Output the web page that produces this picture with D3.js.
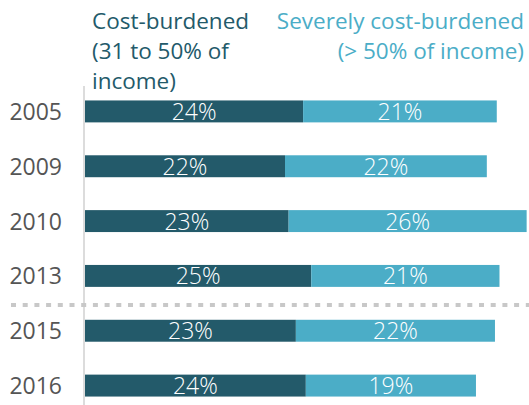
<!DOCTYPE html>
<html>
<head>
<meta charset="utf-8">
<script src="https://cdn.jsdelivr.net/npm/d3@7"></script>
<style>
  body { margin: 0; background: #fff; }
  text { font-family: "Open Sans", "Noto Sans", sans-serif; }
</style>
</head>
<body>
<script>
let width = 529
let height = 405

const years = ['2005', '2009', '2010', '2013', '2015', '2016']
const costBurdened = [24.1, 22.1, 22.5, 25.0, 23.3, 24.4]
const severelyBurdened = [21.4, 22.3, 26.3, 20.8, 22.0, 18.8]
const costLabels = ['24%', '22%', '23%', '25%', '23%', '24%']
const severeLabels = ['21%', '22%', '26%', '21%', '22%', '19%']

const darkColor = '#235a6a'
const lightColor = '#4badc7'

let svg = d3.select('body')
  .append('svg')
  .attr('width', width)
  .attr('height', height)

let x = d3.scaleLinear()
  .domain([0, 50])
  .range([85, 537.5])

let y = d3.scaleBand()
  .domain(years)
  .range([84, 413])
  .paddingInner(0.6)
  .paddingOuter(0.3)

// axis line
svg.append('line')
  .attr('x1', 84).attr('x2', 84)
  .attr('y1', 86).attr('y2', height)
  .attr('stroke', '#dcdcdc')
  .attr('stroke-width', 2)

// separator between 2013 and 2015
svg.append('line')
  .attr('x1', 11).attr('x2', width)
  .attr('y1', 305).attr('y2', 305)
  .attr('stroke', '#c8c8c8')
  .attr('stroke-width', 4)
  .attr('stroke-dasharray', '5,6.7')

const rows = years.map((yr, i) => ({
  year: yr,
  a: costBurdened[i],
  b: severelyBurdened[i],
  la: costLabels[i],
  lb: severeLabels[i]
}))

let g = svg.selectAll('g.row')
  .data(rows)
  .enter()
  .append('g')
  .attr('class', 'row')

g.append('rect')
  .attr('x', x(0))
  .attr('y', d => y(d.year))
  .attr('width', d => x(d.a) - x(0))
  .attr('height', y.bandwidth())
  .attr('fill', darkColor)

g.append('rect')
  .attr('x', d => x(d.a))
  .attr('y', d => y(d.year))
  .attr('width', d => x(d.a + d.b) - x(d.a))
  .attr('height', y.bandwidth())
  .attr('fill', lightColor)

g.append('text')
  .attr('x', d => (x(0) + x(d.a)) / 2)
  .attr('y', d => y(d.year) + y.bandwidth() / 2 + 8.5)
  .attr('text-anchor', 'middle')
  .attr('fill', '#fff')
  .attr('font-size', 23)
  .attr('font-weight', 300)
  .text(d => d.la)

g.append('text')
  .attr('x', d => (x(d.a) + x(d.a + d.b)) / 2)
  .attr('y', d => y(d.year) + y.bandwidth() / 2 + 8.5)
  .attr('text-anchor', 'middle')
  .attr('fill', '#fff')
  .attr('font-size', 23)
  .attr('font-weight', 300)
  .text(d => d.lb)

g.append('text')
  .attr('x', 62)
  .attr('y', d => y(d.year) + y.bandwidth() / 2 + 8.5)
  .attr('text-anchor', 'end')
  .attr('fill', '#555')
  .attr('font-size', 23)
  .text(d => d.year)

// legend
const legendDark = ['Cost-burdened', '(31 to 50% of', 'income)']
const legendLight = ['Severely cost-burdened', '(> 50% of income)']

svg.append('g')
  .selectAll('text')
  .data(legendDark)
  .enter()
  .append('text')
  .attr('x', 92)
  .attr('y', (d, i) => 29 + i * 30)
  .attr('fill', darkColor)
  .attr('font-size', 22.5)
  .text(d => d)

svg.append('g')
  .selectAll('text')
  .data(legendLight)
  .enter()
  .append('text')
  .attr('x', 524)
  .attr('y', (d, i) => 29 + i * 30)
  .attr('text-anchor', 'end')
  .attr('fill', lightColor)
  .attr('font-size', 22.5)
  .text(d => d)
</script>
</body>
</html>
